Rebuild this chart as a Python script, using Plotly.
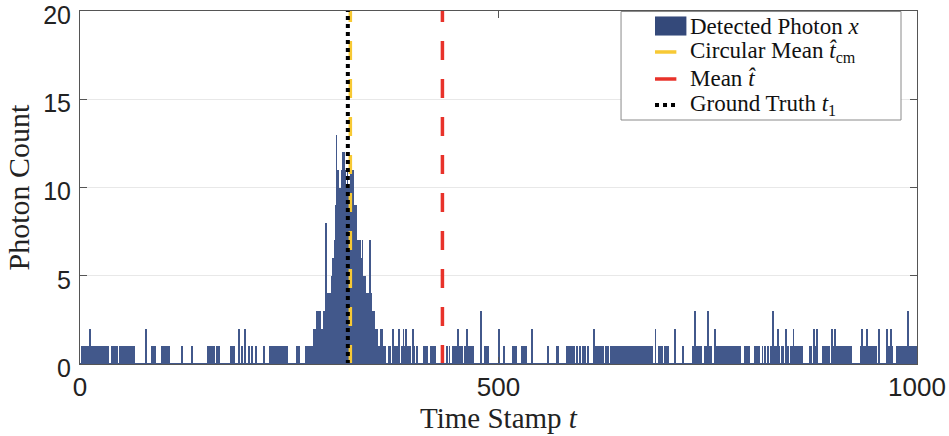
import numpy as np
import plotly.graph_objects as go

# ---------------- data ----------------
n_bins = 1000

# background photon time stamps by count
bg_ones = [2, 3, 5, 6, 8, 9, 10, 12, 13, 14, 16, 17, 19, 20, 21, 23, 24, 26, 27, 28, 30, 31, 33,
           38, 39, 41, 42, 44, 47, 48, 50, 52, 54, 56, 58, 59, 61, 63, 64,
           85, 87, 89, 97, 98, 100, 101, 103, 105, 106, 121, 133,
           152, 153, 155, 157, 158, 160, 163, 165, 166, 180, 182, 184, 193, 201, 205, 210, 219,
           226, 228, 229, 231, 234, 236, 238, 241, 242, 244, 246, 247,
           368, 370, 376, 378, 384, 388, 390, 392, 393, 394, 399, 402, 410, 412, 414, 419, 421, 424,
           438, 441, 445, 446, 448, 449, 453, 455, 456, 459, 460, 464, 466, 467, 469,
           483, 485, 487, 506, 517, 519, 521, 528, 530, 532, 559, 569, 571,
           581, 583, 584, 586, 588, 590, 593, 597, 600, 603, 606, 613, 616, 618, 620, 622, 624,
           628, 630, 631, 634, 636, 638, 640, 642, 644, 646, 648, 651, 653, 655, 657, 659, 661,
           663, 665, 667, 669, 671, 673, 675, 677, 679, 681, 683,
           691, 693, 695, 698, 700, 702, 720, 732, 736, 738, 740, 742, 746, 748, 752, 754,
           760, 761, 763, 764, 766, 768, 769, 771, 773, 774, 776, 778, 780, 782, 784, 786, 788,
           794, 796, 799, 806, 808, 811, 815, 818, 821, 825, 829, 831, 835, 838, 840, 845,
           849, 850, 854, 856, 858, 860, 862, 871, 873, 878, 887, 889, 891, 893, 895, 900, 904, 906,
           909, 911, 913, 915, 917, 919, 921, 933, 936, 938, 942, 945, 947, 949, 951, 966, 970,
           976, 978, 980, 982, 984, 986, 991, 993, 995, 997, 999]
bg_twos = [11, 78, 189, 197, 373, 381, 386, 389, 397, 451, 462, 500, 540, 614,
           687, 710, 758, 833, 843, 852, 876, 880, 898, 902, 934, 940, 954, 964, 968]
bg_threes = [479, 734, 750, 827, 989]

# signal peak
peak_t = [259, 261, 270, 272, 274, 276, 277, 279, 280, 281, 282, 283, 284, 285, 286, 287, 288, 289,
          290, 291, 292, 293, 294, 295, 296, 297, 298, 299, 300, 301, 302, 303, 304, 305, 306, 307,
          308, 309, 310, 311, 312, 313, 314, 315, 316, 317, 318, 319, 320, 321, 322, 323, 324, 325,
          326, 327, 328, 329, 330, 331, 332, 333, 334, 335, 336, 337, 338, 339, 340, 341, 342, 343,
          344, 345, 346, 347, 348, 349, 350, 351, 352, 353, 354, 355, 356, 357, 358, 359, 360, 361,
          362, 364]
peak_c = [1, 1, 1, 1, 1, 1, 1, 2, 1, 2, 3, 3, 3, 2, 3, 1, 2, 2,
          2, 3, 2, 8, 2, 3, 4, 3, 4, 3, 5, 4, 6, 5, 7, 9, 13, 8,
          11, 10, 10, 9, 11, 9, 12, 12, 11, 10, 10, 11, 9, 10, 8, 11, 10, 11,
          11, 9, 9, 9, 7, 7, 6, 7, 7, 6, 5, 7, 5, 4, 5, 4, 4, 3,
          4, 3, 7, 4, 3, 2, 2, 3, 2, 2, 1, 2, 1, 1, 1, 2, 1, 2,
          1, 1]

t_ground_truth = 320
t_circular_mean = 323
t_mean = 433

x_ticks = [0, 500, 1000]
y_ticks = [0, 5, 10, 15, 20]

legend_labels = ['Detected Photon <i>x</i>',
                 'Circular Mean <i>t\u0302</i><sub>cm</sub>',
                 'Mean <i>t\u0302</i>',
                 'Ground Truth <i>t</i><sub>1</sub>']

# ---------------- build histogram ----------------
counts = np.zeros(n_bins)
counts[bg_ones] = 1
counts[bg_twos] = 2
counts[bg_threes] = 3
counts[peak_t] = peak_c
nz = np.nonzero(counts)[0]

NAVY = '#42588b'
PATCH = '#34497a'
YELLOW = '#f7c934'
RED = '#e8322a'
SERIF = 'Liberation Serif, Times New Roman, serif'
SANS = 'Liberation Sans, Arial, sans-serif'

fig = go.Figure()
fig.add_trace(go.Bar(x=nz + 0.5, y=counts[nz], width=1, marker=dict(color=NAVY, line=dict(width=0)),
                     name=legend_labels[0], showlegend=False))
fig.add_trace(go.Scatter(x=[t_circular_mean, t_circular_mean], y=[0, 20], mode='lines',
                         line=dict(color=YELLOW, width=3.5, dash='19px,19px'),
                         name=legend_labels[1], showlegend=False))
fig.add_trace(go.Scatter(x=[t_mean, t_mean], y=[0, 20], mode='lines',
                         line=dict(color=RED, width=3.5, dash='19px,19px'),
                         name=legend_labels[2], showlegend=False))
fig.add_trace(go.Scatter(x=[t_ground_truth, t_ground_truth], y=[0, 20], mode='lines',
                         line=dict(color='black', width=4, dash='4px,4px'),
                         name=legend_labels[3], showlegend=False))

# zero-count baseline of the histogram
fig.add_shape(type='line', xref='x', yref='y', x0=0, x1=n_bins, y0=0, y1=0,
              line=dict(color=NAVY, width=2), layer='above')

# ---------------- legend (drawn in axis-domain coordinates) ----------------
fig.add_shape(type='rect', xref='x domain', yref='y domain', x0=0.6464, x1=0.9809, y0=0.6912, y1=0.9985,
              line=dict(color='#8a8a8a', width=1), fillcolor='white', layer='above')
row_y = [0.9575, 0.8839, 0.8074, 0.7337]
sx0, sx1, tx = 0.687, 0.7245, 0.7264
fig.add_shape(type='rect', xref='x domain', yref='y domain', x0=sx0, x1=sx1,
              y0=row_y[0] - 0.027, y1=row_y[0] + 0.027,
              line=dict(width=0), fillcolor=PATCH, layer='above')
for y, col, dash in [(row_y[1], YELLOW, 'solid'), (row_y[2], RED, 'solid'), (row_y[3], 'black', 'dot')]:
    fig.add_shape(type='line', xref='x domain', yref='y domain', x0=sx0, x1=0.7125, y0=y, y1=y,
                  line=dict(color=col, width=4 if dash == 'dot' else 3.5, dash=dash), layer='above')
for y, lab in zip(row_y, legend_labels):
    fig.add_annotation(xref='x domain', yref='y domain', x=tx, y=y, text=lab, showarrow=False,
                       xanchor='left', yanchor='middle',
                       font=dict(family=SERIF, size=23, color='#111111'))

axis_common = dict(showline=True, linecolor='#555555', linewidth=1, mirror='ticks',
                   ticks='inside', ticklen=7, tickcolor='#555555', zeroline=False,
                   ticklabeloverflow='allow', automargin=False)

fig.update_layout(
    width=949, height=436,
    margin=dict(l=80, r=32, t=11, b=72, autoexpand=False),
    plot_bgcolor='white', paper_bgcolor='white',
    bargap=0,
    showlegend=False,
    xaxis=dict(range=[0, n_bins], tickvals=x_ticks, showgrid=False,
               tickfont=dict(family=SANS, size=26, color='#222222'),
               title=dict(text='Time Stamp <i>t</i>', standoff=6,
                          font=dict(family=SERIF, size=29, color='#222222')),
               **axis_common),
    yaxis=dict(range=[0, 20], tickvals=y_ticks, showgrid=True, gridcolor='#e8e8e8', gridwidth=1,
               ticklabelstandoff=3, ticklabelshift=4,
               tickfont=dict(family=SANS, size=25, color='#222222'),
               title=dict(text='Photon Count', standoff=4,
                          font=dict(family=SERIF, size=30, color='#222222')),
               **axis_common),
)

fig.write_html('out.html')
